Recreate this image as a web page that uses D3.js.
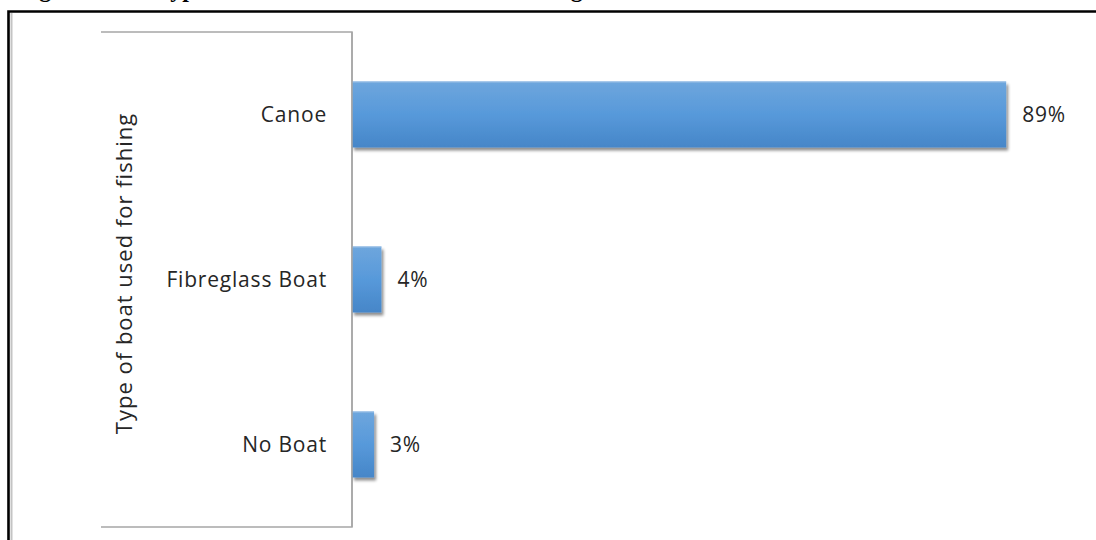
<!DOCTYPE html>
<html>
<head>
<meta charset="utf-8">
<script src="https://cdn.jsdelivr.net/npm/d3@7"></script>
<style>
  html, body { margin: 0; padding: 0; background: #ffffff; }
  svg { display: block; }
</style>
</head>
<body>
<svg id="chart" width="1096" height="540"></svg>
<script>
// Type of boat used for fishing (share of respondents, %)
const categories = ["Canoe", "Fibreglass Boat", "No Boat"];
const values = [89, 4, 3];
const valueLabels = ["89%", "4%", "3%"];
const axisTitle = "Type of boat used for fishing";
const captionLead = "Figure 4:";
const captionText = "Type of boat used for fishing";

const svg = d3.select("#chart");
const W = 1096, H = 540;

// Plot geometry
const plot = { left: 101, right: 352, top: 32, bottom: 527 };

const x = d3.scaleLinear().domain([0, 100]).range([plot.right, plot.right + 735]);
const y = d3.scaleBand().domain(categories).range([plot.top, plot.bottom]).paddingInner(0.6).paddingOuter(0.3);

const defs = svg.append("defs");
const grad = defs.append("linearGradient").attr("id", "barFill")
  .attr("x1", 0).attr("y1", 0).attr("x2", 0).attr("y2", 1);
grad.append("stop").attr("offset", "0%").attr("stop-color", "#6ea6dd");
grad.append("stop").attr("offset", "50%").attr("stop-color", "#5799da");
grad.append("stop").attr("offset", "100%").attr("stop-color", "#4686c8");

const shadow = defs.append("filter").attr("id", "barShadow")
  .attr("x", "-10%").attr("y", "-20%").attr("width", "130%").attr("height", "150%");
shadow.append("feGaussianBlur").attr("in", "SourceAlpha").attr("stdDeviation", 1.8).attr("result", "blur");
shadow.append("feOffset").attr("in", "blur").attr("dx", 2).attr("dy", 3).attr("result", "off");
shadow.append("feComponentTransfer").attr("in", "off").attr("result", "soft")
  .append("feFuncA").attr("type", "linear").attr("slope", 0.45);
const merge = shadow.append("feMerge");
merge.append("feMergeNode").attr("in", "soft");
merge.append("feMergeNode").attr("in", "SourceGraphic");

// Caption line of the page above the frame; only its descenders fall inside the view
const cap = svg.append("g")
  .attr("font-family", "'Liberation Serif', 'Times New Roman', serif")
  .attr("font-weight", "bold").attr("font-size", 24).attr("fill", "#000");
cap.append("text").attr("x", 18).attr("y", -2.8).text(captionLead);
cap.append("text").attr("x", 156).attr("y", -2.8)
  .style("word-spacing", "27px").text(captionText);

// Outer frame
svg.append("line").attr("x1", 11.5).attr("x2", 11.5).attr("y1", 13).attr("y2", H)
  .attr("stroke", "#c4c4c4").attr("stroke-width", 2);
svg.append("path")
  .attr("d", `M8.5,${H} V11.5 H${W}`)
  .attr("fill", "none").attr("stroke", "#000").attr("stroke-width", 2.6);

// Plot area border (top, right axis line, bottom)
svg.append("path")
  .attr("d", `M${plot.left},${plot.top} H${plot.right} V${plot.bottom} H${plot.left}`)
  .attr("fill", "none").attr("stroke", "#a6a6a6").attr("stroke-width", 1.5);

// Bars
svg.append("g").selectAll("rect").data(categories).join("rect")
  .attr("x", x(0))
  .attr("y", d => y(d))
  .attr("width", (d, i) => x(values[i]) - x(0))
  .attr("height", y.bandwidth())
  .attr("fill", "url(#barFill)")
  .attr("filter", "url(#barShadow)");

// Thin light edge along bar tops
svg.append("g").selectAll("line").data(categories).join("line")
  .attr("x1", x(0)).attr("x2", (d, i) => x(values[i]))
  .attr("y1", d => y(d) + 0.5).attr("y2", d => y(d) + 0.5)
  .attr("stroke", "#9cc0e6").attr("stroke-width", 1);

// Axis line redrawn over bar starts
svg.append("line").attr("x1", plot.right).attr("x2", plot.right)
  .attr("y1", plot.top).attr("y2", plot.bottom)
  .attr("stroke", "#a6a6a6").attr("stroke-width", 1.5);

const font = "'Open Sans', 'Noto Sans', sans-serif";

// Category labels
svg.append("g").selectAll("text").data(categories).join("text")
  .attr("x", plot.right - 25)
  .attr("y", d => y(d) + y.bandwidth() / 2)
  .attr("dy", "0.35em")
  .attr("text-anchor", "end")
  .attr("font-family", font).attr("font-size", 21).attr("letter-spacing", 0.8)
  .attr("fill", "#262626")
  .text(d => d);

// Value labels
svg.append("g").selectAll("text").data(categories).join("text")
  .attr("x", (d, i) => x(values[i]) + 16)
  .attr("y", d => y(d) + y.bandwidth() / 2)
  .attr("dy", "0.35em")
  .attr("font-family", font).attr("font-size", 21).attr("letter-spacing", 0.8)
  .attr("fill", "#262626")
  .text((d, i) => valueLabels[i]);

// Axis title
svg.append("text")
  .attr("transform", `translate(132, ${(plot.top + plot.bottom) / 2 - 6}) rotate(-90)`)
  .attr("text-anchor", "middle")
  .attr("font-family", font).attr("font-size", 22).attr("letter-spacing", 1)
  .attr("fill", "#262626")
  .text(axisTitle);
</script>
</body>
</html>
